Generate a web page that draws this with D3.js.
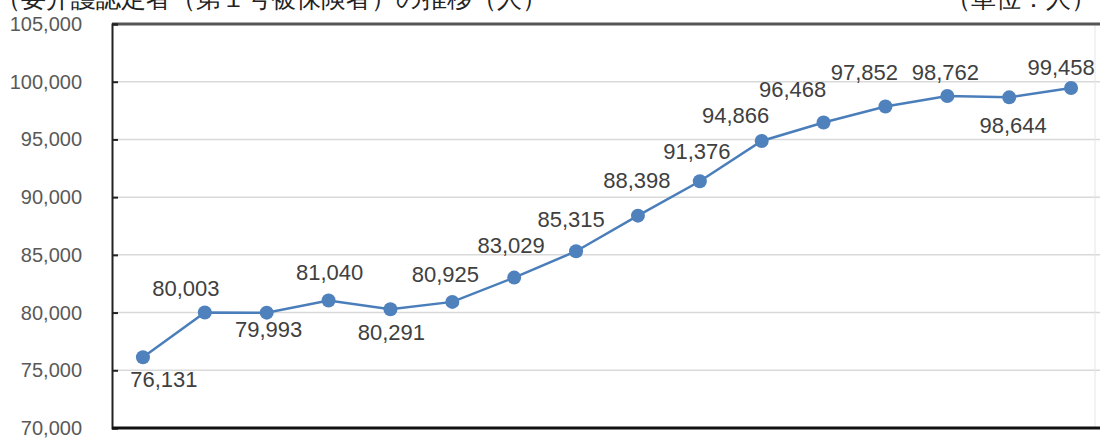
<!DOCTYPE html>
<style>
body {
  margin: 0;
  padding: 0;
  background: #fff;
}
text {
  font-family: "Liberation Sans", Arial, sans-serif;
}
</style>
<svg width="1100" height="438"></svg>
<script src="https://d3js.org/d3.v7.min.js"></script>
<script>

// values
var categories = d3.range(1, 17).map(function(i) { return "p" + i; });
var values = [76131, 80003, 79993, 81040, 80291, 80925, 83029, 85315,
              88398, 91376, 94866, 96468, 97852, 98762, 98644, 99458];
var yTicks = [70000, 75000, 80000, 85000, 90000, 95000, 100000, 105000];

// label placement (layout only): vertical and horizontal nudge from the marker
var labelLift = [22, -24, 17, -28, 23, -28, -32, -32, -35, -30, -26, -33, -34, -24, 28, -21];
var labelNudge = [21, -19, 2, 1, 1, -7, -3, -5, -1, -3, -26, -31, -21, -2, 4, -10];

var svg = d3.select("svg"),
    margin = {top: 24, right: -2, bottom: 10, left: 112},
    width = +svg.attr("width") - margin.left - margin.right,
    height = +svg.attr("height") - margin.top - margin.bottom;

// cut-off title strip at the very top
svg.append("text")
    .attr("x", -4)
    .attr("y", 7)
    .attr("font-family", "Noto Sans CJK JP")
    .attr("font-size", 25)
    .attr("fill", "#222")
    .text("（要介護認定者（第１号被保険者）の推移（人）");
svg.append("text")
    .attr("x", 1096)
    .attr("y", 7)
    .attr("text-anchor", "end")
    .attr("font-family", "Noto Sans CJK JP")
    .attr("font-size", 25)
    .attr("fill", "#222")
    .text("（単位：人）");

var g = svg.append("g").attr("transform", "translate(" + margin.left + "," + margin.top + ")");

var x = d3.scaleBand()
    .domain(categories)
    .range([0, width]);

var y = d3.scaleLinear()
    .domain([70000, 105000])
    .range([height, 0]);

// gridlines
g.append("g")
  .selectAll("line")
  .data(yTicks.slice(1, -1))
  .enter().append("line")
    .attr("x1", 0)
    .attr("x2", width)
    .attr("y1", function(d) { return y(d); })
    .attr("y2", function(d) { return y(d); })
    .attr("stroke", "#d9d9d9")
    .attr("stroke-width", 1.5);

// faint right edge
g.append("line")
    .attr("x1", width - 7).attr("x2", width - 7)
    .attr("y1", 0).attr("y2", height)
    .attr("stroke", "#e6e6e6")
    .attr("stroke-width", 1);

// top border
g.append("line")
    .attr("x1", 0).attr("x2", width)
    .attr("y1", 0).attr("y2", 0)
    .attr("stroke", "#555")
    .attr("stroke-width", 3);

// y axis
var yAxis = g.append("g")
    .call(d3.axisRight(y).tickValues(yTicks).tickSize(6).tickFormat(""));
yAxis.select(".domain").attr("stroke", "#222").attr("stroke-width", 2);
yAxis.selectAll(".tick line").attr("stroke", "#222").attr("stroke-width", 2);

g.append("g")
  .selectAll("text")
  .data(yTicks)
  .enter().append("text")
    .attr("x", -30)
    .attr("y", function(d) { return y(d); })
    .attr("dy", "0.35em")
    .attr("text-anchor", "end")
    .attr("font-size", 20)
    .attr("fill", "#595959")
    .text(function(d) { return d3.format(",")(d); });

// bottom axis line
g.append("line")
    .attr("x1", 0).attr("x2", width)
    .attr("y1", height).attr("y2", height)
    .attr("stroke", "#111")
    .attr("stroke-width", 3);

var cx = function(d, i) { return x(categories[i]) + x.bandwidth() / 2; };

var line = d3.line()
    .x(cx)
    .y(function(d) { return y(d); });

g.append("path")
    .datum(values)
    .attr("fill", "none")
    .attr("stroke", "#4a7ebb")
    .attr("stroke-width", 2.5)
    .attr("d", line);

g.append("g")
  .selectAll("circle")
  .data(values)
  .enter().append("circle")
    .attr("cx", cx)
    .attr("cy", function(d) { return y(d); })
    .attr("r", 7)
    .attr("fill", "#4f81bd");

g.append("g")
  .selectAll("text")
  .data(values)
  .enter().append("text")
    .attr("x", function(d, i) { return cx(d, i) + labelNudge[i]; })
    .attr("y", function(d, i) { return y(d) + labelLift[i]; })
    .attr("dy", "0.35em")
    .attr("text-anchor", "middle")
    .attr("font-size", 22)
    .attr("fill", "#404040")
    .text(function(d) { return d3.format(",")(d); });

</script>
